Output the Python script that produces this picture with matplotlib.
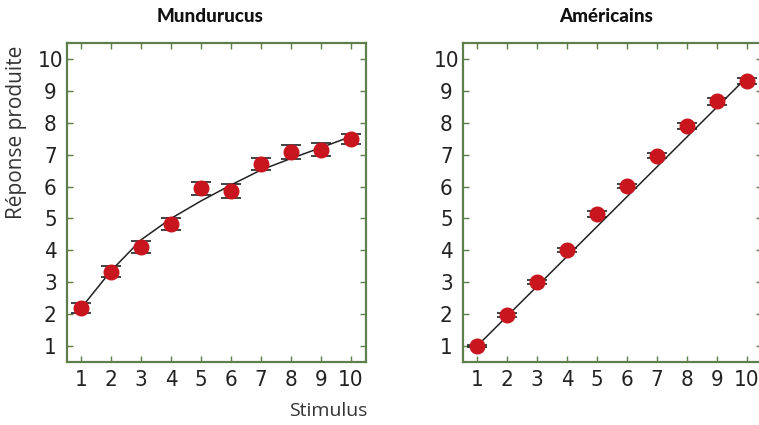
import matplotlib
matplotlib.use("Agg")
import matplotlib.pyplot as plt
from matplotlib import font_manager as fm

stimulus = [1, 2, 3, 4, 5, 6, 7, 8, 9, 10]

# Mundurucus
mund_resp = [2.19, 3.33, 4.10, 4.83, 5.94, 5.86, 6.70, 7.08, 7.15, 7.49]
mund_err = [0.15, 0.18, 0.19, 0.19, 0.19, 0.22, 0.19, 0.21, 0.20, 0.17]
mund_fit = [2.19, 3.36, 4.33, 5.00, 5.55, 6.05, 6.52, 6.88, 7.22, 7.57]

# Americains
amer_resp = [1.00, 1.97, 3.00, 4.01, 5.13, 6.02, 6.97, 7.89, 8.67, 9.30]
amer_err = [0.04, 0.06, 0.07, 0.07, 0.10, 0.06, 0.08, 0.10, 0.10, 0.10]
amer_fit_x = [1, 10]
amer_fit_y = [1.00, 9.43]

titles = ["Mundurucus", "Américains"]

frame_col = "#5e7f4b"
red = "#c9151e"
lab_font = ["Open Sans", "DejaVu Sans"]

# look for a narrow face for the digits
num_prop = None
for f in fm.fontManager.ttflist:
    nm = f.name.lower()
    fn = f.fname.lower()
    if ("narrow" in nm or "condensed" in nm or "condensed" in fn
            or f.stretch in ("condensed", "semi-condensed", "extra-condensed")):
        if "bold" in fn or "italic" in fn or "oblique" in fn:
            continue
        num_prop = fm.FontProperties(fname=f.fname, size=16)
        break
if num_prop is None:
    num_prop = fm.FontProperties(family=["DejaVu Sans"], size=14)

fig = plt.figure(figsize=(7.59, 4.25), dpi=100)
W, H = 759, 425

def make_axes(left_px):
    return fig.add_axes([left_px / W, (H - 362) / H, 299 / W, 319 / H])

ax1 = make_axes(67)
ax2 = make_axes(463)

panels = [
    (ax1, mund_resp, mund_err, stimulus, mund_fit),
    (ax2, amer_resp, amer_err, amer_fit_x, amer_fit_y),
]

for i, (ax, resp, err, fx, fy) in enumerate(panels):
    ax.plot(fx, fy, color="#222222", lw=1.1, zorder=2)
    ax.errorbar(stimulus, resp, yerr=err, fmt="none", ecolor="#222222",
                elinewidth=1.0, capsize=7, capthick=1.2, zorder=3)
    ax.plot(stimulus, resp, "o", color=red, ms=10.5, zorder=4)

    ax.set_xlim(0.53, 10.5)
    ax.set_ylim(0.5, 10.5)
    ax.set_xticks(stimulus)
    ax.set_yticks(range(1, 11))
    for sp in ax.spines.values():
        sp.set_color(frame_col)
        sp.set_linewidth(1.6)
    ax.tick_params(direction="in", length=4, width=1, color=frame_col,
                   top=True, right=True, labelcolor="#222222")
    ax.tick_params(axis="x", pad=6)
    ax.tick_params(axis="y", pad=12)
    for lab in ax.get_xticklabels() + ax.get_yticklabels():
        lab.set_fontproperties(num_prop)
    for lab in ax.get_yticklabels():
        lab.set_horizontalalignment("center")

    bbox = ax.get_position()
    fig.text(bbox.x0 + bbox.width / 2 - 6 / W, 1 - 17 / H, titles[i],
             ha="center", va="center", fontsize=13.5, fontweight="black",
             family=["Lato", "DejaVu Sans"], color="#111111")

fig.text(17 / W, 1 - 132 / H, "Réponse produite", rotation=90, ha="center",
         va="center", fontsize=15, family=lab_font, color="#333333")
fig.text(367 / W, 1 - 411 / H, "Stimulus", ha="right", va="center",
         fontsize=14, family=lab_font, color="#333333")

fig.savefig("out.png", dpi=100)
